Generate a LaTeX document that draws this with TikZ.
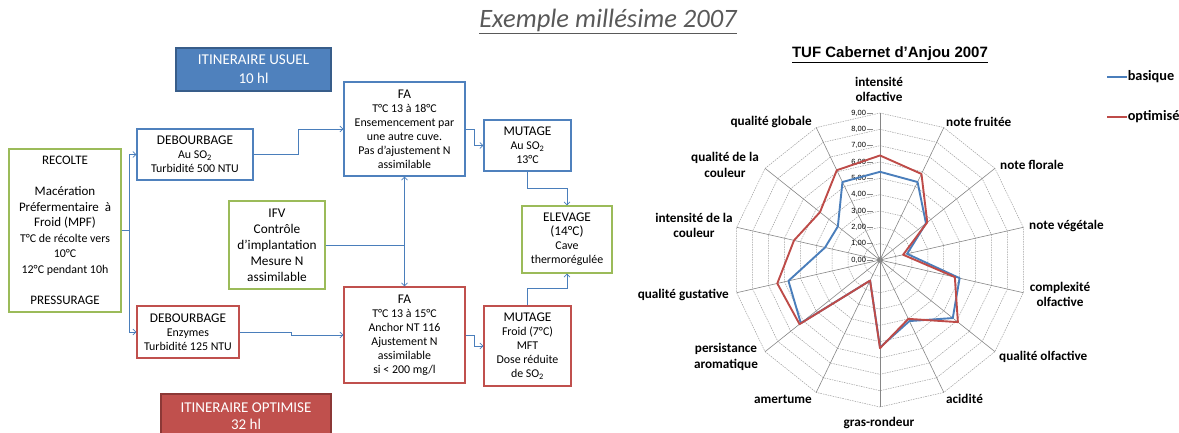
\documentclass[tikz,border=0pt]{standalone}
\usepackage{fontspec}
\setmainfont{Carlito}
\newfontfamily\arialfont{Liberation Sans}
\usetikzlibrary{arrows.meta}
\definecolor{usuelblue}{RGB}{79,129,189}
\definecolor{usueldark}{RGB}{56,93,138}
\definecolor{optired}{RGB}{192,80,77}
\definecolor{optidark}{RGB}{140,56,54}
\definecolor{ifvgreen}{RGB}{155,187,89}
\definecolor{linkblue}{RGB}{74,126,187}
\definecolor{seriesblue}{RGB}{74,126,187}
\definecolor{seriesred}{RGB}{190,75,72}
\definecolor{gridgray}{RGB}{134,134,134}
\definecolor{titlegray}{RGB}{89,89,89}
\newcommand{\flowbox}[4][]{\node[box,#1] at (#2) (#3) {#4}}
\newcommand{\hd}[1]{{\fontsize{13.3}{15}\selectfont #1}}

\begin{document}
\begin{tikzpicture}[x=1pt,y=-1pt,
	box/.style={draw,line width=1.4pt,align=center,inner sep=2pt,font=\fontsize{11.9}{14}\selectfont},
	usuel/.style={draw=usuelblue},
	optim/.style={draw=optired},
	greenbox/.style={draw=ifvgreen},
	banner/.style={line width=1.2pt,text=white,font=\fontsize{15}{19}\selectfont},
	link/.style={linkblue,line width=0.6pt,-{Straight Barb[length=3pt,width=6pt]}},
	ring/.style={gridgray!80,line width=0.5pt,dash pattern=on 1.5pt off 1pt},
	spoke/.style={gridgray,line width=0.6pt},
	axlabel/.style={inner sep=0pt,align=center,font=\bfseries\fontsize{13.2}{15.5}\selectfont},
	ticklabel/.style={inner sep=0pt,anchor=east,font=\arialfont\fontsize{7.5}{9}\selectfont},
	basique/.style={seriesblue,line width=1.9pt,line join=round},
	optimise/.style={seriesred,line width=1.9pt,line join=round}]
				\useasboundingbox (0,0) rectangle (1179,432);
				\clip (0,0) rectangle (1179,432);
				
				\node[text=titlegray,font=\itshape\fontsize{26.5}{30}\selectfont] at (608,21) (exemple) {\underline{Exemple millésime 2007}};
				
				\flowbox[banner,fill=usuelblue,draw=usueldark,minimum width=155pt,minimum height=43pt]{253.5,69.5}{itinU}{ITINERAIRE USUEL\\10 hl};
				\flowbox[banner,fill=optired,draw=optidark,minimum width=170pt,minimum height=44pt,font=\fontsize{15}{17.5}\selectfont]{246,416}{itinO}{ITINERAIRE OPTIMISE\\32 hl};
				
				\flowbox[greenbox,minimum width=112pt,minimum height=163pt,font=\fontsize{13}{15.5}\selectfont]{65,230.5}{recolte}{RECOLTE\\[15.5pt]Macération\\Préfermentaire\ \ à\\Froid (MPF)\\{\fontsize{11.9}{14}\selectfont T°C de récolte vers}\\{\fontsize{11.9}{14}\selectfont 10°C}\\{\fontsize{11.9}{14}\selectfont 12°C pendant 10h}\\[15.5pt]PRESSURAGE};
				
				\flowbox[usuel,minimum width=116pt,minimum height=51pt]{195,154.5}{debU}{\hd{DEBOURBAGE}\\Au SO\textsubscript{2}\\Turbidité 500 NTU};
				\flowbox[optim,minimum width=102pt,minimum height=52pt]{188,332}{debO}{\hd{DEBOURBAGE}\\Enzymes\\Turbidité 125 NTU};
				
				\flowbox[usuel,minimum width=121pt,minimum height=94pt]{404.5,129}{faU}{\hd{FA}\\T°C 13 à 18°C\\Ensemencement par\\une autre cuve.\\Pas d’ajustement N\\assimilable};
				\flowbox[optim,minimum width=121pt,minimum height=96pt]{404.5,335}{faO}{\hd{FA}\\T°C 13 à 15°C\\Anchor NT 116\\Ajustement N\\assimilable\\si < 200 mg/l};
				
				\flowbox[greenbox,minimum width=96pt,minimum height=88pt,font=\fontsize{13.3}{16}\selectfont]{277,245}{ifv}{IFV\\Contrôle\\d’implantation\\Mesure N\\assimilable};
				
				\flowbox[usuel,minimum width=87pt,minimum height=51pt]{527.5,145.5}{mutU}{\hd{MUTAGE}\\Au SO\textsubscript{2}\\13°C};
				\flowbox[optim,minimum width=87pt,minimum height=80pt]{527.5,346}{mutO}{\hd{MUTAGE}\\Froid (7°C)\\MFT\\Dose réduite\\de SO\textsubscript{2}};
				
				\flowbox[greenbox,minimum width=90pt,minimum height=67pt]{567,239.5}{elevage}{\hd{ELEVAGE}\\\hd{(14°C)}\\Cave\\thermorégulée};
				
				\draw[link] (recolte.east) -- ++(8,0) |- (debU.west);
				\draw[link] (recolte.east) -- ++(8,0) |- (debO.west);
				\draw[link] (debU.east) -- ++(45,0) |- (faU.west);
				\draw[link] (debO.east) -- ++(52,0) |- (faO.west);
				\draw[link] (ifv.east) -| (faU.south);
				\draw[link] (ifv.east) -| (faO.north);
				\draw[link] (faU.east) -- ++(9,0) |- (mutU.west);
				\draw[link] (faO.east) -- ++(9,0) |- (mutO.west);
				\draw[link] (mutU.south) -- ++(0,17) -| (elevage.north);
				\draw[link] (mutO.north) -- ++(0,-17) -| (elevage.south);
				
				\node[font=\arialfont\bfseries\fontsize{15}{17}\selectfont] at (890,55) (titre) {\underline{TUF Cabernet d’Anjou 2007}};
				
				\begin{scope}[shift={(880,260)},x=16.333pt,y=16.333pt]
					\foreach \k in {1,...,9}
						\draw[ring] (90:\k) \foreach \i in {1,...,13} {-- (90-\i*360/14:\k)} -- cycle;
					\foreach \i in {0,...,13}
						\draw[spoke] (0,0) -- (90-\i*360/14:9);
					\foreach \k in {0,...,9} {
						\draw[gridgray,line width=0.5pt] (-0.8,\k) -- (-0.45,\k);
						\node[ticklabel] at (-0.85,\k) (tick\k) {\k,00};
					}
					\fill[gridgray] (0,0) circle[radius=0.18];
					\draw[basique] (90:5.4) \foreach \v [count=\i] in {5.3,3.6,1.7,5.0,5.7,4.15,5.35,1.4,6.2,5.75,3.45,3.3,5.3} {-- (90-\i*360/14:\v)} -- cycle;
					\draw[optimise] (90:6.4) \foreach \v [count=\i] in {5.85,3.7,1.45,4.7,6.1,4.0,5.4,1.4,6.3,6.45,5.4,4.7,6.1} {-- (90-\i*360/14:\v)} -- cycle;
				\end{scope}
				
				\node[axlabel] at (879,89.5) (l1) {intensité\\olfactive};
				\node[axlabel,anchor=west] at (946,122) (l2) {note fruitée};
				\node[axlabel,anchor=west] at (1000,165) (l3) {note florale};
				\node[axlabel,anchor=west] at (1029,226) (l4) {note végétale};
				\node[axlabel] at (1060,294.5) (l5) {complexité\\olfactive};
				\node[axlabel,anchor=west] at (999,357) (l6) {qualité olfactive};
				\node[axlabel,anchor=west] at (946,399) (l7) {acidité};
				\node[axlabel] at (879,423) (l8) {gras-rondeur};
				\node[axlabel,anchor=east] at (812,399) (l9) {amertume};
				\node[axlabel] at (726,357) (l10) {persistance\\aromatique};
				\node[axlabel,anchor=east] at (729,295) (l11) {qualité gustative};
				\node[axlabel] at (694,225.5) (l12) {intensité de la\\couleur};
				\node[axlabel] at (725,165) (l13) {qualité de la\\couleur};
				\node[axlabel,anchor=east] at (812,122) (l14) {qualité globale};
				
				\coordinate (legU) at (1107,77);
				\coordinate (legO) at (1107,117);
				\draw[basique,line width=1.5pt] (legU) -- ++(20,0) node[axlabel,anchor=west,black,font=\bfseries\fontsize{14.3}{16}\selectfont] (legbasique) {basique};
				\draw[optimise,line width=1.5pt] (legO) -- ++(20,0) node[axlabel,anchor=west,black,font=\bfseries\fontsize{14.3}{16}\selectfont] (legoptimise) {optimisé};
				
				\end{tikzpicture}
\end{document}
